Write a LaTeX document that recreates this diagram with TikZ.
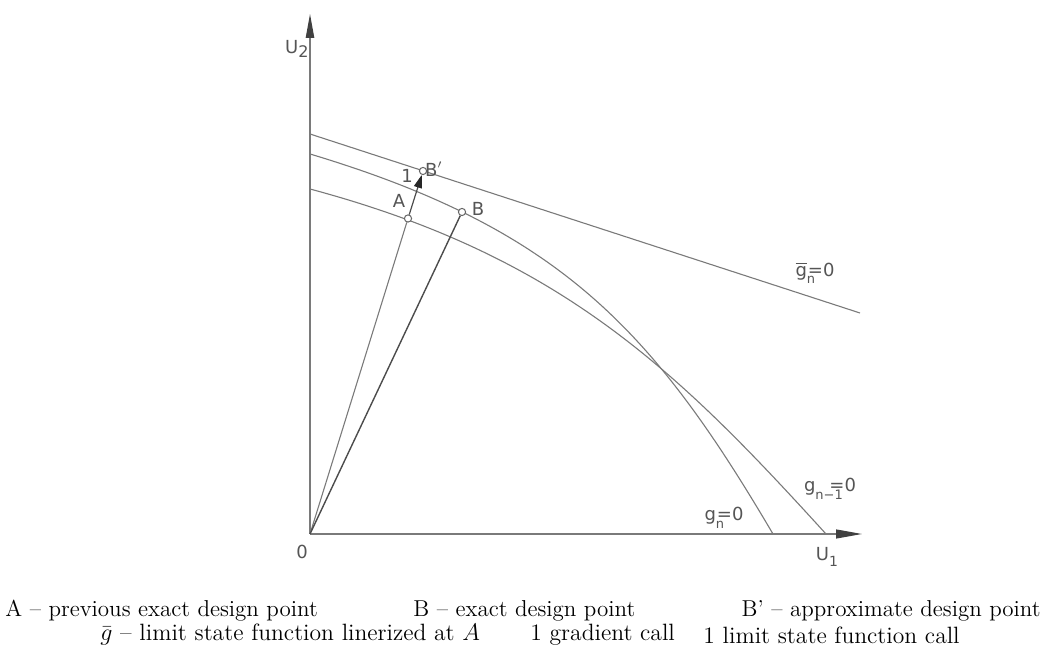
\documentclass[tikz,border=0pt]{standalone}
\usepackage{fontspec}
\newfontfamily\labfont{DejaVu Sans}
\usetikzlibrary{arrows.meta}
\definecolor{ln}{HTML}{7A7A7A}
\definecolor{tx}{HTML}{555555}
\begin{document}
\begin{tikzpicture}[x=0.5pt,y=-0.5pt,
  curve/.style={draw=ln, line width=0.55pt},
  axis/.style={draw=ln, line width=0.6pt},
  ray/.style={draw=ln, line width=0.55pt},
  lab/.style={text=tx, font=\labfont\fontsize{9}{10}\selectfont, inner sep=0pt},
  captxt/.style={font=\fontsize{11.5}{14}\selectfont, inner sep=0pt, anchor=west},
  captxtb/.style={font=\fontsize{11.8}{14}\selectfont, inner sep=0pt, anchor=west},
  pt/.style={circle, draw=black!60, fill=white, line width=0.5pt, inner sep=0pt, minimum size=3.6pt}]
\useasboundingbox (0,0) rectangle (1045,646);
% axes
\coordinate (O) at (310,534);
\coordinate (U1end) at (862,534);
\coordinate (U2end) at (310,14);
\draw[axis, -{Triangle[length=13pt,width=4.5pt,color=black!75]}] (O) -- (U1end);
\draw[axis, -{Triangle[length=12pt,width=4.2pt,color=black!75]}] (O) -- (U2end);
% linearized limit state
\draw[curve] (310,134) -- (860,313);
% g_n = 0
\draw[curve] (310,154) .. controls (560,229) and (653,330) .. (773,534);
% g_{n-1} = 0
\draw[curve] (310,189) .. controls (560,256) and (676,369) .. (826,534);
% points
\node[pt] (A) at (408,218.5) {};
\node[pt] (B) at (462,212) {};
\node[pt] (Bp) at (423,171) {};
\draw[ray] (O) -- (A);
\draw[draw=black!70, line width=0.7pt] (O) -- (B);
\draw[draw=black!70, line width=0.6pt, -{Triangle[length=6.5pt,width=4pt,color=black!85]}] (A) -- (Bp);
% labels
\node[lab, anchor=east] (lU2) at (309,49) {U\raisebox{-0.35ex}{\fontsize{8}{9}\selectfont 2}};
\node[lab] (l0) at (302,552) {0};
\node[lab] (lU1) at (827,557) {U\raisebox{-0.6ex}{\fontsize{7}{8}\selectfont 1}};
\node[lab] (l1) at (407,176) {1};
\node[lab] (lA) at (399,201) {A};
\node[lab] (lBp) at (434,169) {B$'$};
\node[lab] (lB) at (478,209) {B};
\node[lab] (lgb) at (815,273) {$\overline{\mbox{g}}$\rlap{\raisebox{-0.8ex}{\fontsize{6.5}{7}\selectfont n}}\kern0.5pt=0};
\node[lab] (lgn1) at (830,489) {g\rlap{\raisebox{-0.8ex}{\fontsize{6.5}{7}\selectfont n−1}}\kern7pt=0};
\node[lab] (lgn) at (724,518) {g\rlap{\raisebox{-0.8ex}{\fontsize{6.5}{7}\selectfont n}}\kern0.5pt=0};
% caption
\node[captxt] (c1) at (5,611) {A -- previous exact design point};
\node[captxt] (c2) at (413,611) {B -- exact design point};
\node[captxt, anchor=east] (c3) at (1041,611) {B' -- approximate design point};
\node[captxtb] (c4) at (100,635) {$\bar{g}$ -- limit state function linerized at $A$};
\node[captxtb] (c5) at (530,635) {1 gradient call};
\node[captxtb] (c6) at (703,635) {1 limit state function call};
\end{tikzpicture}
\end{document}
